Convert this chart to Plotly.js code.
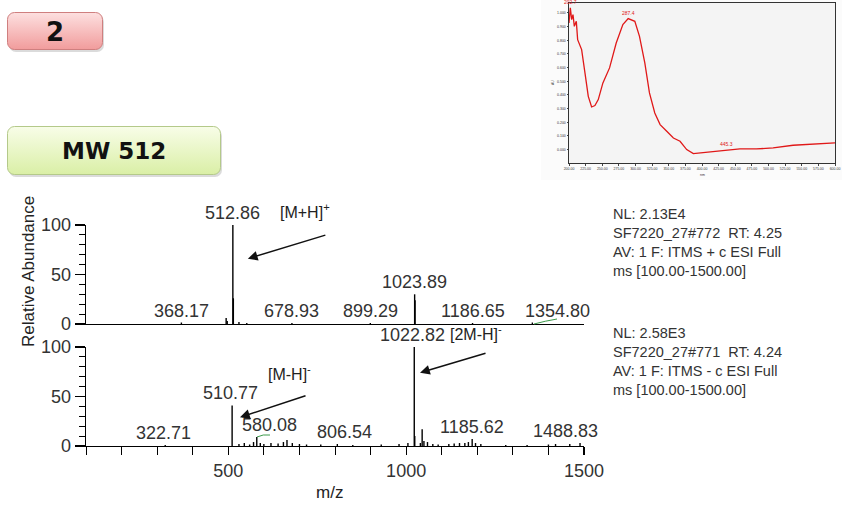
<!DOCTYPE html>
<html>
<head>
<meta charset="utf-8">
<script src="https://cdn.plot.ly/plotly-3.0.1.min.js"></script>
<style>html,body{margin:0;padding:0;background:#fff;}#chart{width:842px;height:505px;}</style>
</head>
<body>
<div id="chart"></div>
<script>
// ---------- DATA ----------
// Positive ESI spectrum (m/z, relative abundance %)
const posMz  = [368.17, 494, 497, 512.86, 514.2, 530, 552, 678.93, 899.29, 1023.89, 1025.0, 1186.65, 1354.80];
const posInt = [1.5,    6,   3,   100,    26,    2,   1,   1,      1,      30,      24,     1,       1.5];
// Negative ESI spectrum
const negMz  = [322.71, 510.77, 530, 545, 560, 571, 580.08, 590, 600, 620, 640, 655, 665, 680, 700, 720, 760, 806.54, 850, 930, 980, 1005, 1022.82, 1024.2, 1040, 1045, 1050, 1060, 1075, 1090, 1120, 1135, 1150, 1165, 1175, 1185.62, 1195, 1210, 1280, 1340, 1400, 1420, 1460, 1488.83];
const negInt = [1,      41,     2,   3,   1.5, 4,   9,      3,   2,   3,   2.5, 4,   6,   3,   2,   1.5, 1.5, 2,      1,   1.5, 2,   3,    100,     10,     3,    17,   5,    4,    2,    1.5,  2,    2.5,  3,    3,    4,    7,       3,    2,    1,    1,    1.5,  2,    2,    3];
// labelled peaks
const posLabelMz = [368.17, 512.86, 678.93, 899.29, 1023.89, 1186.65, 1354.80];
const posLabelShift = [0, 0, 0, 0, 0, 0, 25];
const negLabelMz = [322.71, 510.77, 580.08, 806.54, 1022.82, 1185.62, 1488.83];
const negLabelShift = [-2, -2, 13, 7, -2, 0, -15];
// scan info
const posInfo = ["NL: 2.13E4", "SF7220_27#772  RT: 4.25", "AV: 1 F: ITMS + c ESI Full", "ms [100.00-1500.00]"];
const negInfo = ["NL: 2.58E3", "SF7220_27#771  RT: 4.24", "AV: 1 F: ITMS - c ESI Full", "ms [100.00-1500.00]"];
// UV spectrum inset (wavelength nm, absorbance)
const uvNm = [200, 202, 204, 206, 208, 211, 213, 219, 224, 229, 234, 239, 244, 251, 261, 271, 281, 289, 299, 306, 314, 321, 329, 337, 347, 357, 367, 377, 387, 397, 417, 437, 457, 482, 507, 537, 567, 600];
const uvAbs = [0.927, 1.037, 0.951, 0.988, 0.902, 0.939, 0.805, 0.732, 0.561, 0.390, 0.312, 0.322, 0.366, 0.488, 0.598, 0.780, 0.915, 0.959, 0.939, 0.829, 0.634, 0.415, 0.268, 0.183, 0.134, 0.085, 0.061, 0.000, -0.029, -0.024, -0.012, 0.000, 0.005, 0.005, 0.012, 0.032, 0.041, 0.049];
const uvLabels = [["202.7", 202], ["287.4", 289], ["445.3", 437]];

// ---------- helpers ----------
const W = 842, H = 505;
const px = v => v / W;
const py = v => 1 - v / H;
const F = '"Liberation Sans", Arial, sans-serif';

function sticks(mz, inten, xa, ya) {
  const x = [], y = [];
  mz.forEach((m, i) => { x.push(m, m, null); y.push(0, inten[i], null); });
  return {type: 'scatter', mode: 'lines', x, y, xaxis: xa, yaxis: ya,
    line: {color: '#000', width: 1.4}, hoverinfo: 'skip', showlegend: false, connectgaps: false};
}

const traces = [
  sticks(posMz, posInt, 'x', 'y'),
  sticks(negMz, negInt, 'x2', 'y2'),
  {type: 'scatter', mode: 'lines', x: uvNm, y: uvAbs, xaxis: 'x3', yaxis: 'y3',
   line: {color: '#e01818', width: 1.3}, hoverinfo: 'skip', showlegend: false}
];

const ann = [];
function peakLabels(labMz, shifts, mz, inten, xa, ya) {
  labMz.forEach((m, i) => {
    const h = inten[mz.indexOf(m)];
    ann.push({x: m, y: h, xref: xa, yref: ya, text: m.toFixed(2), showarrow: false,
      xanchor: 'center', yanchor: 'bottom', xshift: shifts[i], yshift: 0,
      font: {family: F, size: 18, color: '#333'}});
  });
}
peakLabels(posLabelMz, posLabelShift, posMz, posInt, 'x', 'y');
peakLabels(negLabelMz, negLabelShift, negMz, negInt, 'x2', 'y2');

// ion annotations
ann.push({x: 716, y: 100, xref: 'x', yref: 'y', text: '[M+H]<sup>+</sup>', showarrow: false,
  xanchor: 'center', yanchor: 'bottom', yshift: 2, font: {family: F, size: 16, color: '#222'}});
ann.push({x: 671, y: 74, xref: 'x2', yref: 'y2', text: '[M-H]<sup>-</sup>', showarrow: false,
  xanchor: 'center', yanchor: 'middle', font: {family: F, size: 16, color: '#222'}});
ann.push({x: 1118, y: 100, xref: 'x2', yref: 'y2', text: '[2M-H]<sup>-</sup>', showarrow: false,
  xanchor: 'left', yanchor: 'bottom', yshift: 2, font: {family: F, size: 16, color: '#222'}});
// arrows
const arrowStyle = {showarrow: true, text: '', arrowhead: 2, arrowsize: 1.3, arrowwidth: 1.5, arrowcolor: '#111', standoff: 0};
ann.push(Object.assign({x: 555, y: 66, xref: 'x', yref: 'y', ax: 79, ay: -24}, arrowStyle));
ann.push(Object.assign({x: 533, y: 29, xref: 'x2', yref: 'y2', ax: 67, ay: -22}, arrowStyle));
ann.push(Object.assign({x: 1039, y: 74, xref: 'x2', yref: 'y2', ax: 67, ay: -20}, arrowStyle));

// axis titles
ann.push({x: px(28), y: py(272), xref: 'paper', yref: 'paper', text: 'Relative Abundance', textangle: -90,
  xanchor: 'center', yanchor: 'middle', showarrow: false, font: {family: F, size: 17, color: '#222'}});
ann.push({x: px(329), y: py(492), xref: 'paper', yref: 'paper', text: 'm/z',
  xanchor: 'center', yanchor: 'middle', showarrow: false, font: {family: F, size: 17, color: '#222'}});

// scan info blocks
ann.push({x: px(611), y: py(204), xref: 'paper', yref: 'paper', xanchor: 'left', yanchor: 'top', align: 'left',
  text: posInfo.join('<br>'), showarrow: false, font: {family: F, size: 14.5, color: '#333'}});
ann.push({x: px(611), y: py(323), xref: 'paper', yref: 'paper', xanchor: 'left', yanchor: 'top', align: 'left',
  text: negInfo.join('<br>'), showarrow: false, font: {family: F, size: 14.5, color: '#333'}});

// boxes text
ann.push({x: px(55), y: py(32), xref: 'paper', yref: 'paper', text: '<b>2</b>', showarrow: false,
  xanchor: 'center', yanchor: 'middle', font: {family: '"DejaVu Sans", Verdana, sans-serif', size: 26, color: '#111'}});
ann.push({x: px(114), y: py(151), xref: 'paper', yref: 'paper', text: '<b>MW 512</b>', showarrow: false,
  xanchor: 'center', yanchor: 'middle', font: {family: '"DejaVu Sans", Verdana, sans-serif', size: 23, color: '#111'}});

// UV inset labels
uvLabels.forEach(l => {
  const i = uvNm.indexOf(l[1]);
  ann.push({x: l[1], y: uvAbs[i], xref: 'x3', yref: 'y3', text: l[0], showarrow: false, xanchor: 'center', yanchor: 'bottom',
    yshift: 1, font: {family: F, size: 5, color: '#e01818'}});
});
ann.push({x: 400, y: -0.098, xref: 'x3', yref: 'y3', text: 'nm', showarrow: false, xanchor: 'center', yanchor: 'top', yshift: -8,
  font: {family: F, size: 3.5, color: '#333'}});
ann.push({x: px(553), y: py(83), xref: 'paper', yref: 'paper', text: 'AU', showarrow: false, textangle: -90,
  xanchor: 'center', yanchor: 'middle', font: {family: F, size: 3.5, color: '#333'}});

function boxSvg(w, h, c1, c2, stroke) {
  return 'data:image/svg+xml;charset=utf-8,' + encodeURIComponent(
    `<svg xmlns="http://www.w3.org/2000/svg" width="${w}" height="${h}" viewBox="0 0 ${w} ${h}">` +
    `<defs><linearGradient id="g" x1="0" y1="0" x2="0" y2="1"><stop offset="0" stop-color="${c1}"/><stop offset="1" stop-color="${c2}"/></linearGradient></defs>` +
    `<rect x="2" y="3" width="${w-3}" height="${h-4}" rx="7" fill="#999" opacity="0.35"/>` +
    `<rect x="0.5" y="0.5" width="${w-3}" height="${h-4}" rx="7" fill="url(#g)" stroke="${stroke}" stroke-width="1"/>` +
    `</svg>`);
}

const layout = {
  width: W, height: H,
  margin: {l: 0, r: 0, t: 0, b: 0, autoexpand: false},
  paper_bgcolor: '#fff', plot_bgcolor: 'rgba(0,0,0,0)',
  showlegend: false,
  font: {family: F, color: '#222'},
  xaxis: {domain: [px(86), px(584)], range: [100, 1500], anchor: 'y', showticklabels: false, ticks: '',
    showline: true, linecolor: '#000', linewidth: 1.3, showgrid: false, zeroline: false, fixedrange: true},
  yaxis: {domain: [py(324), py(225)], range: [0, 100], anchor: 'x', tick0: 0, dtick: 50, ticks: 'outside',
    ticklen: 10, tickwidth: 1.2, tickcolor: '#000', minor: {dtick: 10, ticks: 'outside', ticklen: 6, tickcolor: '#000', tickwidth: 1},
    showline: true, linecolor: '#000', linewidth: 1.3, showgrid: false, zeroline: false,
    tickfont: {family: F, size: 18, color: '#333'}, fixedrange: true},
  xaxis2: {domain: [px(86), px(584)], range: [100, 1500], anchor: 'y2', tick0: 0, dtick: 500, ticks: 'outside',
    ticklen: 8, tickwidth: 1.2, tickcolor: '#000', minor: {dtick: 100, ticks: 'outside', ticklen: 8, tickcolor: '#000', tickwidth: 1},
    showline: true, linecolor: '#000', linewidth: 1.3, showgrid: false, zeroline: false,
    tickfont: {family: F, size: 18, color: '#333'}, fixedrange: true},
  yaxis2: {domain: [py(446), py(347)], range: [0, 100], anchor: 'x2', tick0: 0, dtick: 50, ticks: 'outside',
    ticklen: 10, tickwidth: 1.2, tickcolor: '#000', minor: {dtick: 10, ticks: 'outside', ticklen: 6, tickcolor: '#000', tickwidth: 1},
    showline: true, linecolor: '#000', linewidth: 1.3, showgrid: false, zeroline: false,
    tickfont: {family: F, size: 18, color: '#333'}, fixedrange: true},
  xaxis3: {domain: [px(569), px(835)], range: [200, 600], anchor: 'y3', tick0: 200, dtick: 25, ticks: 'outside', ticklen: 1.5,
    tickformat: '.2f', tickfont: {family: F, size: 3.5, color: '#333'}, showline: true, mirror: true, linecolor: '#333',
    linewidth: 1, showgrid: false, zeroline: false, fixedrange: true},
  yaxis3: {domain: [py(163), py(3)], range: [-0.098, 1.073], anchor: 'x3', tick0: 0, dtick: 0.1, ticks: 'outside', ticklen: 1.5,
    tickformat: '.3f', tickfont: {family: F, size: 3.5, color: '#333'}, showline: true, mirror: true, linecolor: '#333',
    linewidth: 1, showgrid: false, zeroline: false, fixedrange: true},
  shapes: [
    {type: 'rect', xref: 'paper', yref: 'paper', x0: px(541), x1: px(842), y0: py(180), y1: py(0),
      fillcolor: '#fbfbfb', line: {width: 0}, layer: 'below'},
    {type: 'rect', xref: 'x3 domain', yref: 'y3 domain', x0: 0, x1: 1, y0: 0, y1: 1,
      fillcolor: '#f4f4f4', line: {width: 0}, layer: 'below'},
    // hand-drawn green marks
    {type: 'path', xref: 'paper', yref: 'paper', path: `M ${px(534)},${py(324)} Q ${px(545)},${py(321)} ${px(557)},${py(319)}`,
      line: {color: '#3c9a4a', width: 1}},
    {type: 'path', xref: 'paper', yref: 'paper', path: `M ${px(257)},${py(437)} Q ${px(263)},${py(434)} ${px(270)},${py(435)}`,
      line: {color: '#3c9a4a', width: 1}}
  ],
  images: [
    {source: boxSvg(98, 41, '#fde0e0', '#f19c9c', '#cf7f7f'), xref: 'paper', yref: 'paper',
      x: px(7), y: py(12), sizex: px(98) , sizey: 41 / H, xanchor: 'left', yanchor: 'top', sizing: 'stretch', layer: 'below'},
    {source: boxSvg(216, 52, '#f8fde8', '#daefa6', '#b4c98a'), xref: 'paper', yref: 'paper',
      x: px(7), y: py(126), sizex: px(216), sizey: 52 / H, xanchor: 'left', yanchor: 'top', sizing: 'stretch', layer: 'below'}
  ],
  annotations: ann
};

Plotly.newPlot('chart', traces, layout, {staticPlot: true, displayModeBar: false});
</script>
</body>
</html>
